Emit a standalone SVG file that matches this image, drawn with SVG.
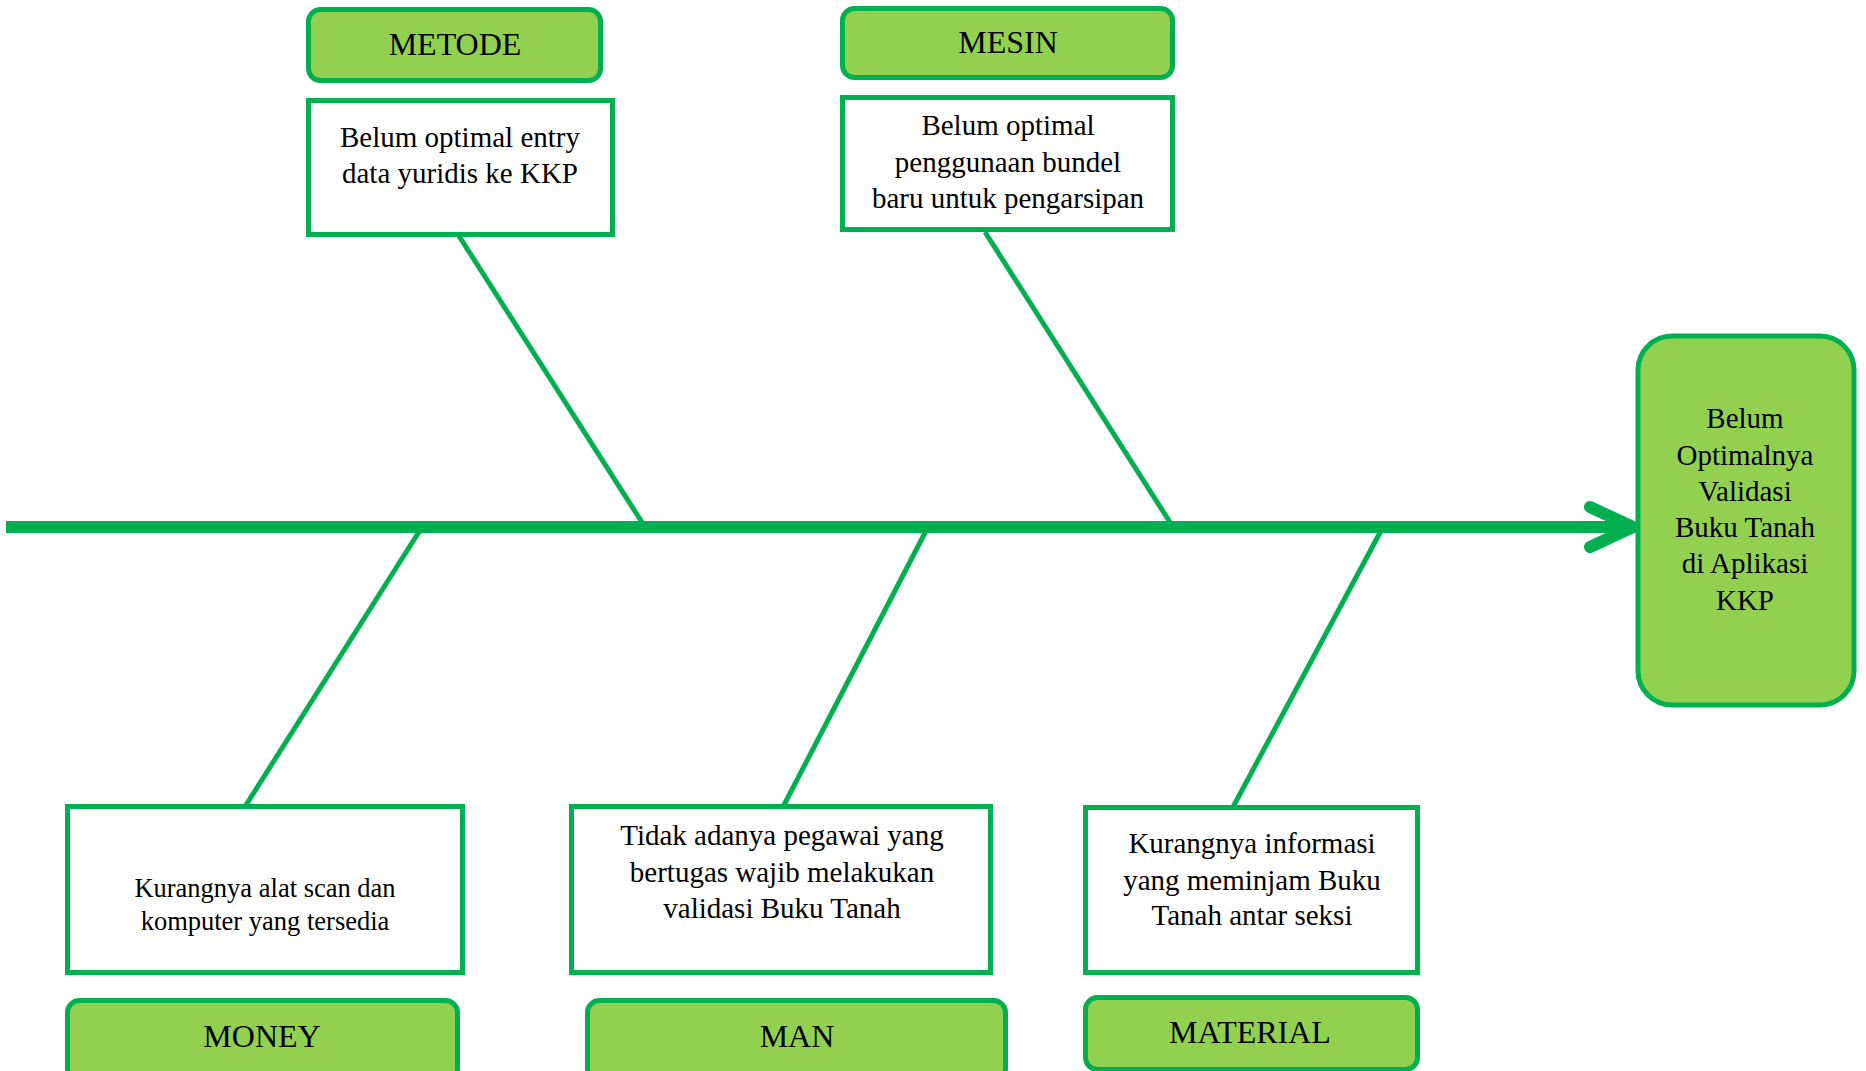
<svg xmlns="http://www.w3.org/2000/svg" width="1866" height="1071" viewBox="0 0 1866 1071">
<style>
.lbl{fill:#92D050;stroke:#00B050;stroke-width:5}
.box{fill:#FFFFFF;stroke:#00B050;stroke-width:5}
.bone{stroke:#00B050;stroke-width:5;fill:none}
text{font-family:"Liberation Serif","Times New Roman",serif;fill:#000;text-anchor:middle}
.t32{font-size:32px}
.t29{font-size:29px}
.t26{font-size:26.5px}
</style>
<rect width="1866" height="1071" fill="#FFFFFF"/>
<g id="connectors">
<line x1="6" y1="527" x2="1630" y2="527" stroke="#00B050" stroke-width="12"/>
<polyline points="1590,507 1633,527 1590,547" fill="none" stroke="#00B050" stroke-width="12" stroke-linecap="round" stroke-linejoin="round"/>
<line class="bone" x1="459" y1="236" x2="645" y2="527"/>
<line class="bone" x1="985" y1="232" x2="1173" y2="527"/>
<line class="bone" x1="422" y1="527" x2="246" y2="805"/>
<line class="bone" x1="928" y1="527" x2="784" y2="805"/>
<line class="bone" x1="1383" y1="527" x2="1233" y2="807"/>
</g>
<g id="effect">
<rect class="lbl" x="1638" y="336" width="216" height="369" rx="34"/>
<text class="t29" x="1745" y="428">Belum</text>
<text class="t29" x="1745" y="465">Optimalnya</text>
<text class="t29" x="1745" y="501">Validasi</text>
<text class="t29" x="1745" y="537">Buku Tanah</text>
<text class="t29" x="1745" y="573">di Aplikasi</text>
<text class="t29" x="1745" y="610">KKP</text>
</g>
<g id="metode">
<rect class="lbl" x="308.5" y="9.5" width="292" height="71" rx="12"/>
<text class="t32" x="455" y="55">METODE</text>
</g>
<g id="metode-cause">
<rect class="box" x="308.5" y="100.5" width="304" height="134"/>
<text class="t29" x="460" y="147">Belum optimal entry</text>
<text class="t29" x="460" y="183">data yuridis ke KKP</text>
</g>
<g id="mesin">
<rect class="lbl" x="842.5" y="8.5" width="330" height="69" rx="12"/>
<text class="t32" x="1008" y="53">MESIN</text>
</g>
<g id="mesin-cause">
<rect class="box" x="842.5" y="97.5" width="330" height="132"/>
<text class="t29" x="1008" y="135">Belum optimal</text>
<text class="t29" x="1008" y="172">penggunaan bundel</text>
<text class="t29" x="1008" y="208">baru untuk pengarsipan</text>
</g>
<g id="money-cause">
<rect class="box" x="67.5" y="806.5" width="395" height="166"/>
<text class="t26" x="265" y="897">Kurangnya alat scan dan</text>
<text class="t26" x="265" y="930">komputer yang tersedia</text>
</g>
<g id="money">
<rect class="lbl" x="67.5" y="1000.5" width="390" height="80" rx="12"/>
<text class="t32" x="262" y="1047">MONEY</text>
</g>
<g id="man-cause">
<rect class="box" x="571.5" y="806.5" width="419" height="166"/>
<text class="t29" x="782" y="845">Tidak adanya pegawai yang</text>
<text class="t29" x="782" y="882">bertugas wajib melakukan</text>
<text class="t29" x="782" y="918">validasi Buku Tanah</text>
</g>
<g id="man">
<rect class="lbl" x="587.5" y="1000.5" width="418" height="80" rx="12"/>
<text class="t32" x="797" y="1047">MAN</text>
</g>
<g id="material-cause">
<rect class="box" x="1085.5" y="807.5" width="332" height="165"/>
<text class="t29" x="1252" y="853">Kurangnya informasi</text>
<text class="t29" x="1252" y="890">yang meminjam Buku</text>
<text class="t29" x="1252" y="925">Tanah antar seksi</text>
</g>
<g id="material">
<rect class="lbl" x="1085.5" y="997.5" width="332" height="72" rx="12"/>
<text class="t32" x="1250" y="1043">MATERIAL</text>
</g>
</svg>
